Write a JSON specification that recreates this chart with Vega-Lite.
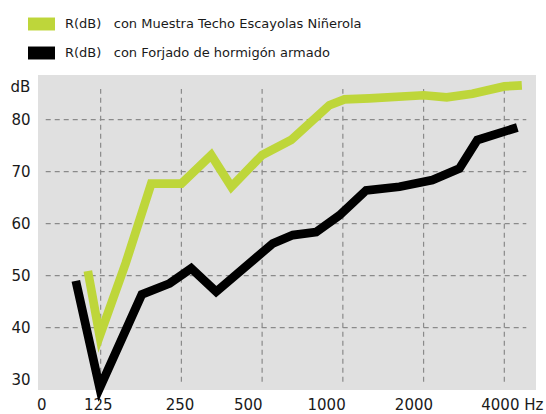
{
  "$schema": "https://vega.github.io/schema/vega-lite/v6.json",
  "width": 498,
  "height": 315,
  "autosize": "none",
  "padding": {"left": 38, "top": 75, "right": 10, "bottom": 24},
  "background": "white",
  "config": {
    "view": {"fill": "#e0e0e0", "stroke": null},
    "font": "DejaVu Sans"
  },
  "datasets": {
    "hgrid": [{"db": 40}, {"db": 50}, {"db": 60}, {"db": 70}, {"db": 80}],
    "vgrid": [{"f": 125}, {"f": 250}, {"f": 500}, {"f": 1000}, {"f": 2000}, {"f": 4000}],
    "lines": [
      {"serie": "R(dB)\u00a0\u00a0\u00a0con Muestra Techo Escayolas Niñerola", "f": 112, "db": 50.9},
      {"serie": "R(dB)\u00a0\u00a0\u00a0con Muestra Techo Escayolas Niñerola", "f": 124, "db": 38.4},
      {"serie": "R(dB)\u00a0\u00a0\u00a0con Muestra Techo Escayolas Niñerola", "f": 155, "db": 52.4},
      {"serie": "R(dB)\u00a0\u00a0\u00a0con Muestra Techo Escayolas Niñerola", "f": 193, "db": 67.7},
      {"serie": "R(dB)\u00a0\u00a0\u00a0con Muestra Techo Escayolas Niñerola", "f": 250, "db": 67.7},
      {"serie": "R(dB)\u00a0\u00a0\u00a0con Muestra Techo Escayolas Niñerola", "f": 323, "db": 73.2},
      {"serie": "R(dB)\u00a0\u00a0\u00a0con Muestra Techo Escayolas Niñerola", "f": 384, "db": 67.1},
      {"serie": "R(dB)\u00a0\u00a0\u00a0con Muestra Techo Escayolas Niñerola", "f": 500, "db": 73.2},
      {"serie": "R(dB)\u00a0\u00a0\u00a0con Muestra Techo Escayolas Niñerola", "f": 642, "db": 76.1},
      {"serie": "R(dB)\u00a0\u00a0\u00a0con Muestra Techo Escayolas Niñerola", "f": 891, "db": 82.8},
      {"serie": "R(dB)\u00a0\u00a0\u00a0con Muestra Techo Escayolas Niñerola", "f": 1014, "db": 83.9},
      {"serie": "R(dB)\u00a0\u00a0\u00a0con Muestra Techo Escayolas Niñerola", "f": 1256, "db": 84.1},
      {"serie": "R(dB)\u00a0\u00a0\u00a0con Muestra Techo Escayolas Niñerola", "f": 2000, "db": 84.7},
      {"serie": "R(dB)\u00a0\u00a0\u00a0con Muestra Techo Escayolas Niñerola", "f": 2439, "db": 84.3},
      {"serie": "R(dB)\u00a0\u00a0\u00a0con Muestra Techo Escayolas Niñerola", "f": 3040, "db": 85.0},
      {"serie": "R(dB)\u00a0\u00a0\u00a0con Muestra Techo Escayolas Niñerola", "f": 4000, "db": 86.4},
      {"serie": "R(dB)\u00a0\u00a0\u00a0con Muestra Techo Escayolas Niñerola", "f": 4649, "db": 86.6},
      {"serie": "R(dB)\u00a0\u00a0\u00a0con Forjado de hormigón armado", "f": 101, "db": 49.0},
      {"serie": "R(dB)\u00a0\u00a0\u00a0con Forjado de hormigón armado", "f": 124, "db": 28.4},
      {"serie": "R(dB)\u00a0\u00a0\u00a0con Forjado de hormigón armado", "f": 178, "db": 46.4},
      {"serie": "R(dB)\u00a0\u00a0\u00a0con Forjado de hormigón armado", "f": 226, "db": 48.5},
      {"serie": "R(dB)\u00a0\u00a0\u00a0con Forjado de hormigón armado", "f": 272, "db": 51.4},
      {"serie": "R(dB)\u00a0\u00a0\u00a0con Forjado de hormigón armado", "f": 337, "db": 46.9},
      {"serie": "R(dB)\u00a0\u00a0\u00a0con Forjado de hormigón armado", "f": 548, "db": 56.2},
      {"serie": "R(dB)\u00a0\u00a0\u00a0con Forjado de hormigón armado", "f": 651, "db": 57.8},
      {"serie": "R(dB)\u00a0\u00a0\u00a0con Forjado de hormigón armado", "f": 795, "db": 58.4},
      {"serie": "R(dB)\u00a0\u00a0\u00a0con Forjado de hormigón armado", "f": 971, "db": 61.6},
      {"serie": "R(dB)\u00a0\u00a0\u00a0con Forjado de hormigón armado", "f": 1221, "db": 66.4},
      {"serie": "R(dB)\u00a0\u00a0\u00a0con Forjado de hormigón armado", "f": 1625, "db": 67.1},
      {"serie": "R(dB)\u00a0\u00a0\u00a0con Forjado de hormigón armado", "f": 2157, "db": 68.4},
      {"serie": "R(dB)\u00a0\u00a0\u00a0con Forjado de hormigón armado", "f": 2719, "db": 70.6},
      {"serie": "R(dB)\u00a0\u00a0\u00a0con Forjado de hormigón armado", "f": 3173, "db": 76.1},
      {"serie": "R(dB)\u00a0\u00a0\u00a0con Forjado de hormigón armado", "f": 4472, "db": 78.5}
    ]
  },
  "layer": [
    {
      "data": {"name": "hgrid"},
      "mark": {"type": "rule", "color": "#8a8a8a", "strokeWidth": 1.2, "strokeDash": [5, 4]},
      "encoding": {
        "y": {"field": "db", "type": "quantitative",
          "scale": {"domain": [28, 88.6], "nice": false, "zero": false},
          "axis": {"values": [30, 40, 50, 60, 70, 80], "grid": false, "ticks": false, "tickSize": 0, "domain": false, "labelFontSize": 15, "labelColor": "#1a1a1a", "labelPadding": 8, "title": "dB", "titleAngle": 0, "titleX": -18, "titleY": 11, "titleAlign": "center", "titleBaseline": "middle", "titleFontSize": 15, "titleFontWeight": "normal", "titleColor": "#1a1a1a"}},
        "x": {"datum": 78, "type": "quantitative",
          "scale": {"type": "log", "domain": [73, 5250], "nice": false},
          "axis": {"values": [75, 122, 246, 442, 866, 1833, 4266], "labelExpr": "datum.value < 100 ? '0' : datum.value < 200 ? '125' : datum.value < 300 ? '250' : datum.value < 600 ? '500' : datum.value < 1000 ? '1000' : datum.value < 2000 ? '2000' : '4000 Hz'", "title": null, "grid": false, "ticks": false, "tickSize": 0, "domain": false, "labelFontSize": 15, "labelColor": "#1a1a1a", "labelPadding": 7, "labelFlush": false, "labelOverlap": false, "labelBound": false}},
        "x2": {"datum": 4830}
      }
    },
    {
      "data": {"name": "vgrid"},
      "mark": {"type": "rule", "color": "#8a8a8a", "strokeWidth": 1.2, "strokeDash": [5, 4]},
      "encoding": {
        "x": {"field": "f", "type": "quantitative",
          "scale": {"type": "log", "domain": [73, 5250], "nice": false},
          "axis": {"values": [75, 122, 246, 442, 866, 1833, 4266], "labelExpr": "datum.value < 100 ? '0' : datum.value < 200 ? '125' : datum.value < 300 ? '250' : datum.value < 600 ? '500' : datum.value < 1000 ? '1000' : datum.value < 2000 ? '2000' : '4000 Hz'", "title": null, "grid": false, "ticks": false, "tickSize": 0, "domain": false, "labelFontSize": 15, "labelColor": "#1a1a1a", "labelPadding": 7, "labelFlush": false, "labelOverlap": false, "labelBound": false}},
        "y": {"datum": 29.6, "type": "quantitative",
          "scale": {"domain": [28, 88.6], "nice": false, "zero": false},
          "axis": {"values": [30, 40, 50, 60, 70, 80], "grid": false, "ticks": false, "tickSize": 0, "domain": false, "labelFontSize": 15, "labelColor": "#1a1a1a", "labelPadding": 8, "title": "dB", "titleAngle": 0, "titleX": -18, "titleY": 11, "titleAlign": "center", "titleBaseline": "middle", "titleFontSize": 15, "titleFontWeight": "normal", "titleColor": "#1a1a1a"}},
        "y2": {"datum": 85.9}
      }
    },
    {
      "data": {"name": "lines"},
      "mark": {"type": "line", "strokeWidth": 8.7, "strokeJoin": "miter", "strokeCap": "butt"},
      "encoding": {
        "x": {"field": "f", "type": "quantitative",
          "scale": {"type": "log", "domain": [73, 5250], "nice": false},
          "axis": {"values": [75, 122, 246, 442, 866, 1833, 4266], "labelExpr": "datum.value < 100 ? '0' : datum.value < 200 ? '125' : datum.value < 300 ? '250' : datum.value < 600 ? '500' : datum.value < 1000 ? '1000' : datum.value < 2000 ? '2000' : '4000 Hz'", "title": null, "grid": false, "ticks": false, "tickSize": 0, "domain": false, "labelFontSize": 15, "labelColor": "#1a1a1a", "labelPadding": 7, "labelFlush": false, "labelOverlap": false, "labelBound": false}},
        "y": {"field": "db", "type": "quantitative",
          "scale": {"domain": [28, 88.6], "nice": false, "zero": false},
          "axis": {"values": [30, 40, 50, 60, 70, 80], "grid": false, "ticks": false, "tickSize": 0, "domain": false, "labelFontSize": 15, "labelColor": "#1a1a1a", "labelPadding": 8, "title": "dB", "titleAngle": 0, "titleX": -18, "titleY": 11, "titleAlign": "center", "titleBaseline": "middle", "titleFontSize": 15, "titleFontWeight": "normal", "titleColor": "#1a1a1a"}},
        "color": {"field": "serie", "type": "nominal",
          "scale": {"domain": ["R(dB)\u00a0\u00a0\u00a0con Muestra Techo Escayolas Niñerola", "R(dB)\u00a0\u00a0\u00a0con Forjado de hormigón armado"], "range": ["#bed63a", "#000000"]},
          "legend": {"orient": "none", "legendX": -10, "legendY": -64.5, "title": null, "symbolType": "M-1,-0.48H1V0.48H-1Z", "symbolSize": 729, "symbolStrokeWidth": 0, "symbolOpacity": 1, "labelFont": "DejaVu Sans", "labelFontSize": 13, "labelOffset": 10, "rowPadding": 8, "labelLimit": 0, "padding": 0, "labelColor": "#1a1a1a",
            "encode": {"symbols": {"update": {"fill": {"scale": "color", "field": "value"}, "fillOpacity": {"value": 1}, "strokeWidth": {"value": 0}}}}}}
      }
    }
  ]
}
